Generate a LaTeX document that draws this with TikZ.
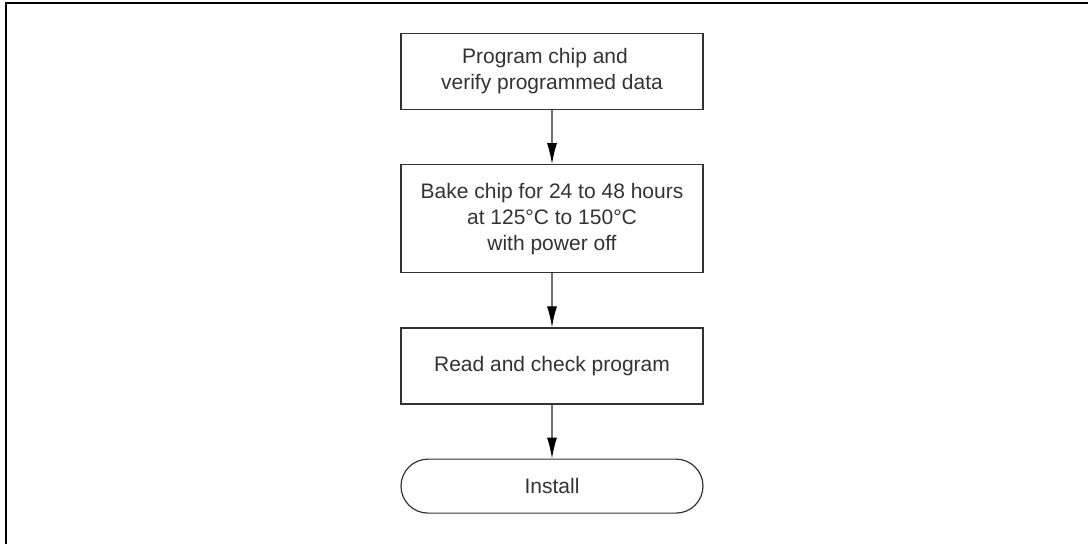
\documentclass[tikz,border=0pt]{standalone}
\usepackage{fontspec}
\setmainfont{Liberation Sans}
\usetikzlibrary{arrows.meta,positioning}

\definecolor{boxline}{HTML}{333333}
\definecolor{flowline}{HTML}{707070}

\begin{document}
\begin{tikzpicture}[
			x=1pt,y=1pt,
			>=Latex,
			node distance=54pt,
			process/.style={
				draw=boxline,
				line width=1.2pt,
				align=center,
				text=boxline,
				font=\fontsize{21}{26}\selectfont,
				minimum width=302pt,
				minimum height=76pt
			},
			terminal/.style={
				process,
				rounded corners=27pt,
				minimum height=54pt
			},
			flow/.style={
				draw=flowline,
				line width=1.2pt,
				-{Latex[length=21pt,width=10pt,color=black]}
			}
			]
			
			% Frame and size
			\useasboundingbox (0,0) rectangle (1088,-544);
			\draw[line width=1.3pt] (6,-544) -- (6,-3) -- (1088,-3);
			
			% Steps
			\node[process] (prog) at (552,-71.5)
			{Program chip and\hspace*{14pt}\\verify programmed data};
			\node[process,below=of prog,minimum height=108pt] (bake)
			{Bake chip for 24 to 48 hours\\at 125°C to 150°C\\with power off};
			\node[process,below=of bake] (check) {Read and check program};
			
			% End
			\node[terminal,below=of check] (install) {Install};
			
			% Arrows
			\draw[flow] (prog) -- (bake);
			\draw[flow] (bake) -- (check);
			\draw[flow] (check) -- (install);
			
		\end{tikzpicture}
\end{document}
